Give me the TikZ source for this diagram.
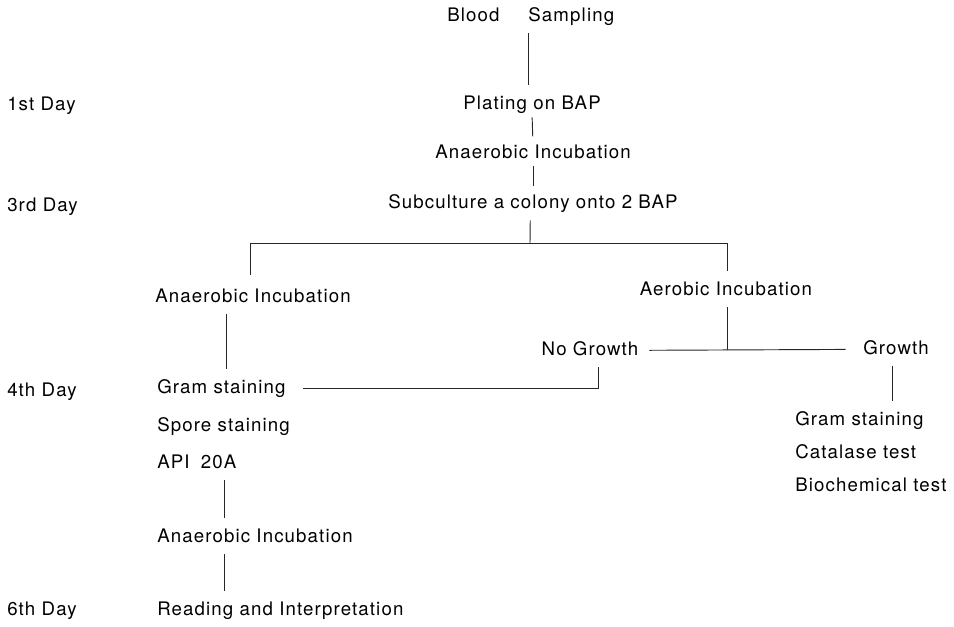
\documentclass[tikz,border=0pt]{standalone}
\usepackage{fontspec}
\setmainfont{TeX Gyre Heros}[LetterSpace=6]
\usetikzlibrary{positioning}

\begin{document}
\begin{tikzpicture}[x=0.75pt, y=-0.75pt, font=\fontsize{14}{16}\selectfont,
    every node/.style={inner sep=0pt, text height=10pt, text depth=3pt},
    stage/.style={anchor=base},
    item/.style={anchor=base west},
    link/.style={draw=black!85, line width=0.7pt, shorten <=6pt, shorten >=8pt}]
  \useasboundingbox (0,0) rectangle (954,626);

  % day labels
  \node[item] (day1) at (7,110) {1st Day};
  \node[item] (day3) at (7,211) {3rd Day};
  \node[item] (day4) at (7,396) {4th Day};
  \node[item] (day6) at (7,615) {6th Day};

  % main trunk
  \node[item] (blood) at (447,21) {Blood\hspace{1.55em}Sampling};
  \node[stage] (plating) at (532,109) {Plating on BAP};
  \node[stage] (incub) at (533,158) {Anaerobic Incubation};
  \node[stage] (subcult) at (533,208) {Subculture a colony onto 2 BAP};
  \coordinate (split) at (530,243);

  % anaerobic branch
  \node[item] (anaer) at (155,302) {Anaerobic Incubation};
  \node[item] (gramL) at (157,393) {Gram staining};
  \node[item] (spore) at (157,431) {Spore staining};
  \node[item] (api) at (157,468) {API\hspace{0.6em}20A};
  \node[item] (anaer2) at (157,542) {Anaerobic Incubation};
  \node[item] (reading) at (157,615) {Reading and Interpretation};

  % aerobic branch
  \node[stage] (aerob) at (726,295) {Aerobic Incubation};
  \node[stage] (nogrowth) at (590,355) {No Growth};
  \node[stage] (growth) at (896,354) {Growth};
  \node[item] (gramR) at (795,425) {Gram staining};
  \node[item] (catalase) at (795,458) {Catalase test};
  \node[item] (biochem) at (795,491) {Biochemical test};

  % connectors
  \draw[link] ([xshift=-2pt]blood.south) -- ([xshift=-2pt]blood.south |- plating.north);
  \draw[link, shorten <=3pt, shorten >=6pt] (plating.south) -- (incub.north);
  \draw[link, shorten <=3pt, shorten >=6pt] (incub.south) -- (incub.south |- subcult.north);
  \draw[link, shorten >=0pt] ([xshift=-2pt]subcult.south) -- (split);
  \draw[link, shorten >=10pt, shorten <=0pt] (split) -| ([xshift=-2pt]anaer.north);
  \draw[link, shorten >=8pt, shorten <=0pt] (split) -| ([xshift=1pt]aerob.north);
  \draw[link, shorten >=0pt] ([xshift=1pt]aerob.south) -- ([xshift=1pt]aerob.south |- nogrowth.east);
  \draw[link, shorten <=8pt, shorten >=13pt] (nogrowth.east) -- (growth.west);
  \draw[link, shorten >=13pt] ([xshift=6pt]nogrowth.south) |- (gramL.east);
  \draw[link] ([xshift=-20pt]anaer.south) -- ([xshift=-20pt]anaer.south |- gramL.north);
  \draw[link] ([xshift=-23pt]anaer2.north |- api.south) -- ([xshift=-23pt]anaer2.north);
  \draw[link] ([xshift=-23pt]anaer2.south) -- ([xshift=-23pt]anaer2.south |- reading.north);
  \draw[link] ([xshift=-3pt]growth.south) -- ([xshift=-3pt]growth.south |- gramR.north);
\end{tikzpicture}
\end{document}
